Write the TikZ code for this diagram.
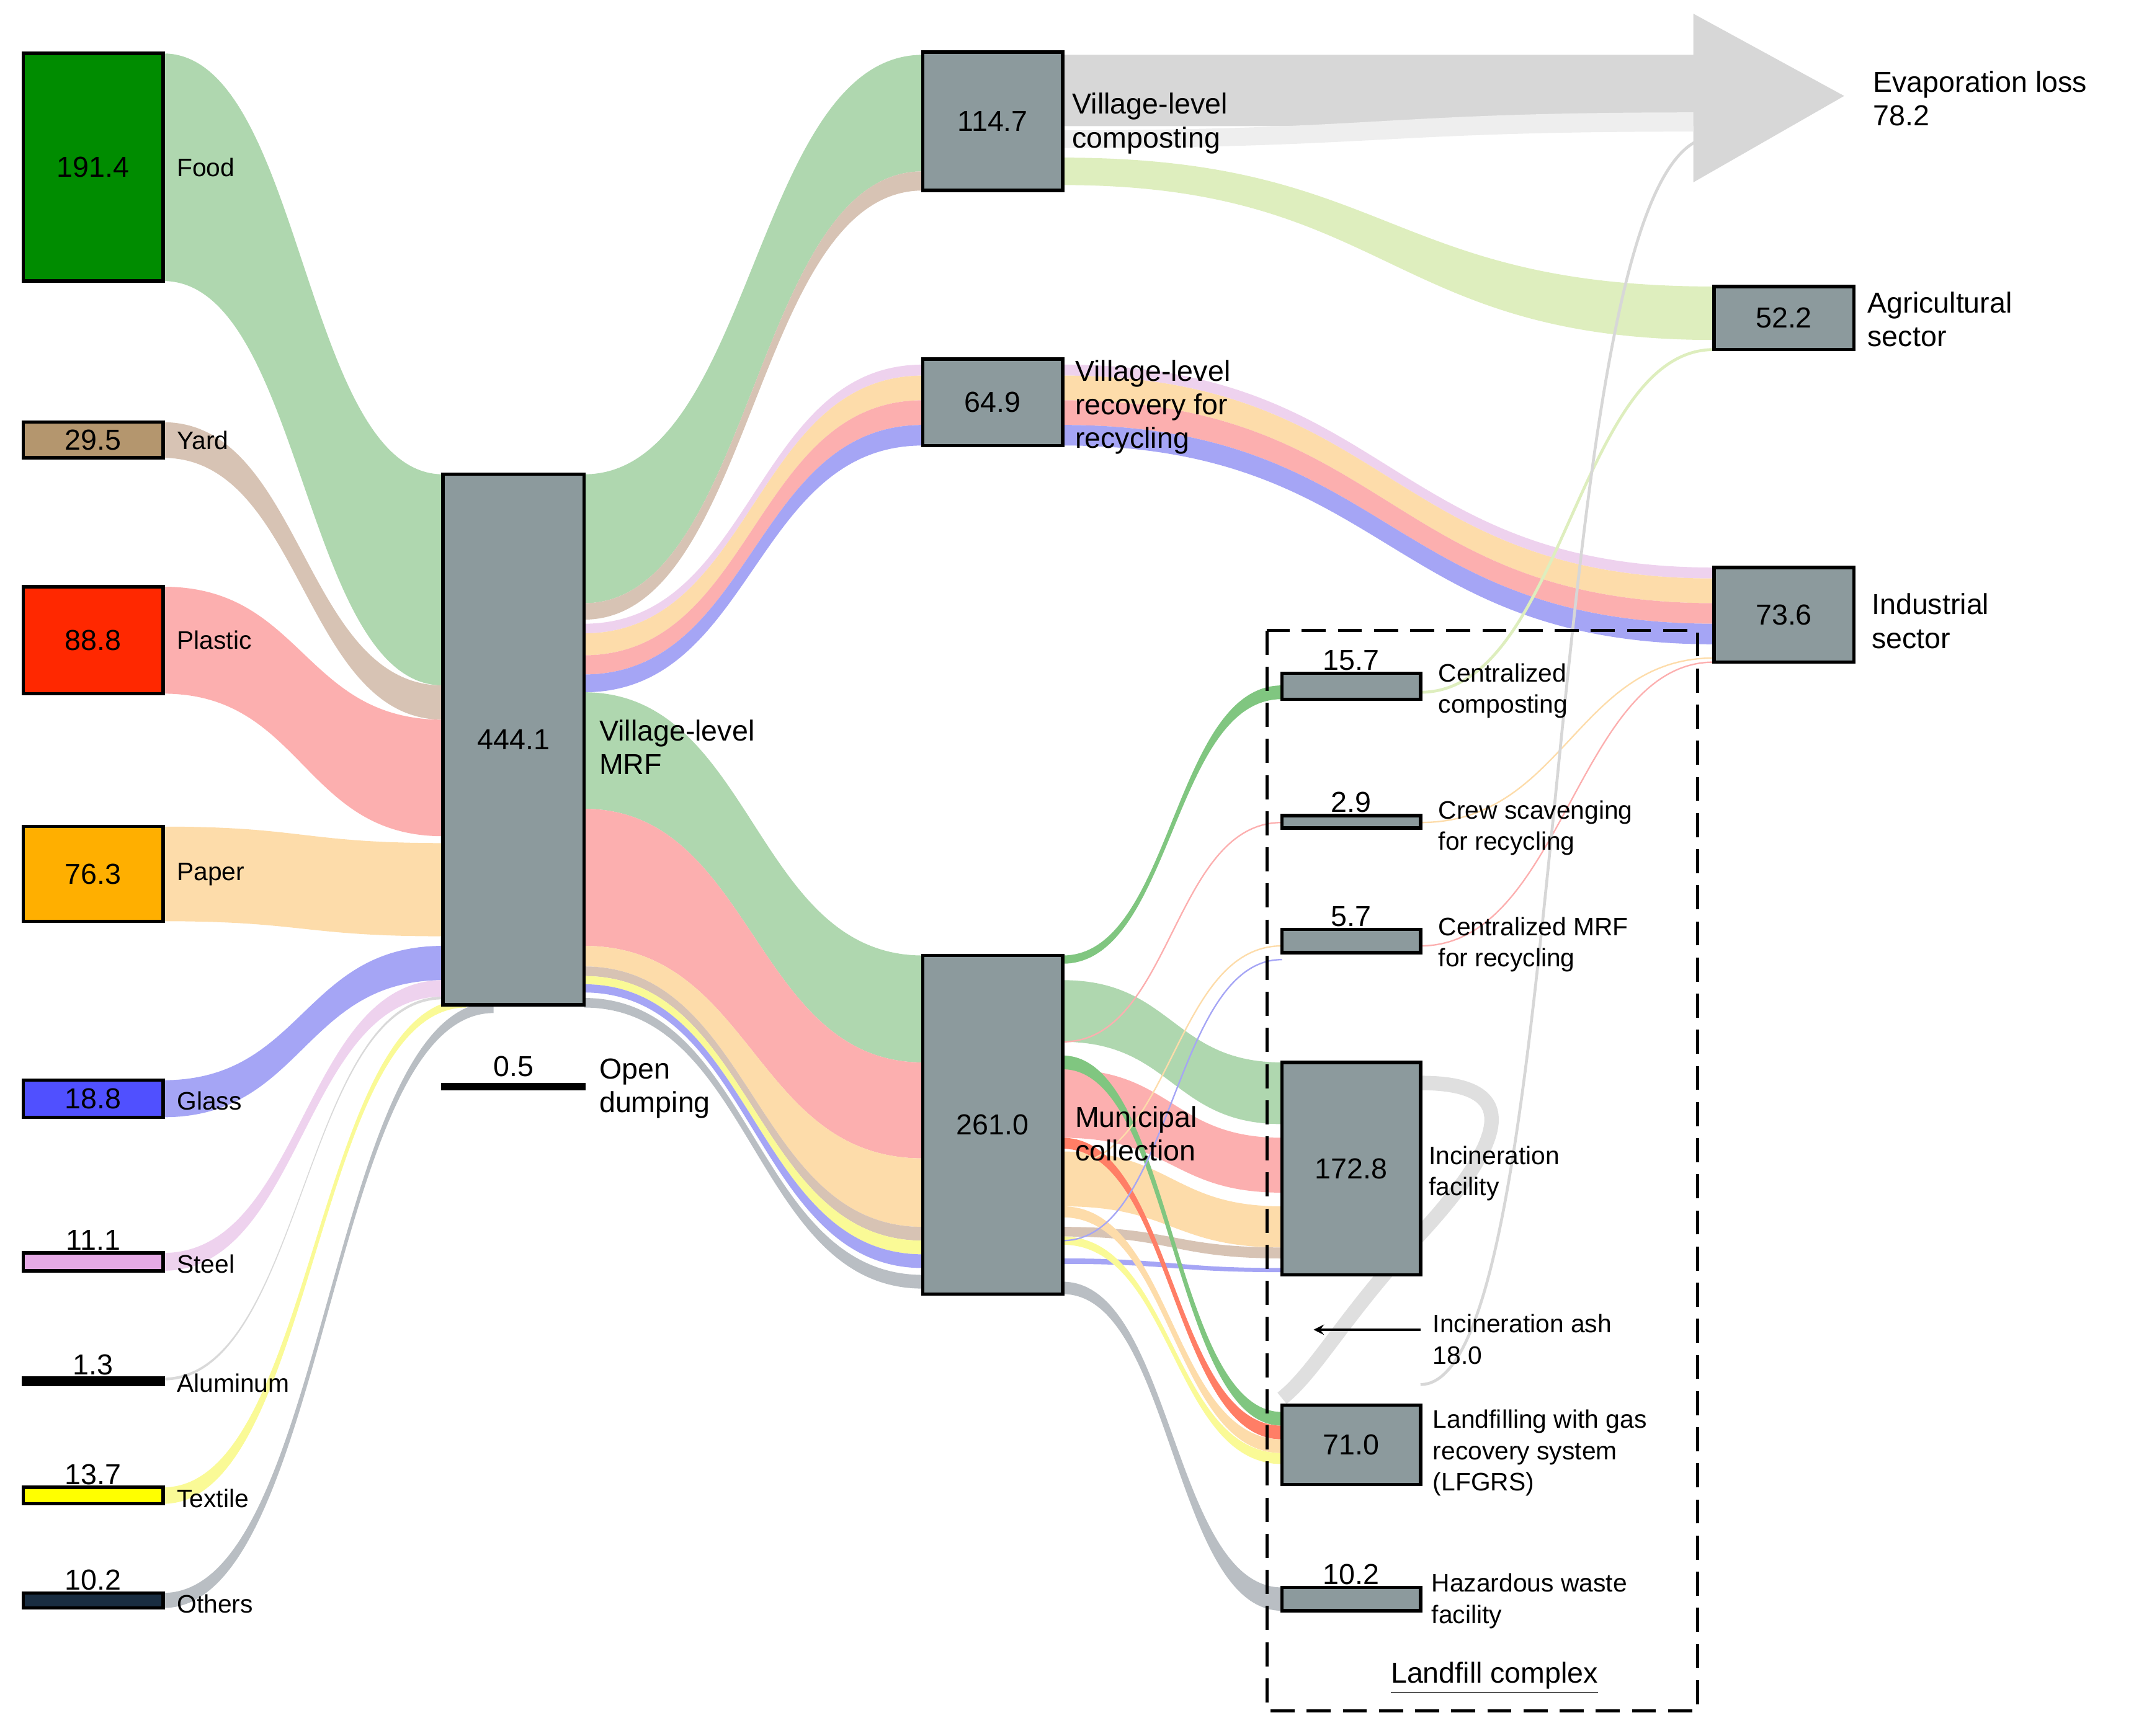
\documentclass[tikz,border=0pt]{standalone}
\usepackage{fontspec}
\setmainfont{Liberation Sans}
\begin{document}
\newcommand\sbband[7]{\fill[#7] (#1,#2) .. controls ({(#1+#4)/2},#2) and ({(#1+#4)/2},#5) .. (#4,#5) -- (#4,#6) .. controls ({(#1+#4)/2},#6) and ({(#1+#4)/2},#3) .. (#1,#3) -- cycle;}
\newcommand\bx[7]{\node[box,fill=#6,minimum width={(#3-#1)*0.02cm},minimum height={(#4-#2)*0.02cm}] (#5) at ({(#1+#3)/2},{(#2+#4)/2}) {#7};}
\definecolor{cfood}{RGB}{0,140,0}\definecolor{lfood}{RGB}{175,215,175}
\definecolor{cyard}{RGB}{180,150,110}\definecolor{lyard}{RGB}{215,195,180}
\definecolor{cplas}{RGB}{255,40,0}\definecolor{lplas}{RGB}{252,175,175}
\definecolor{cpap}{RGB}{255,175,0}\definecolor{lpap}{RGB}{253,220,170}
\definecolor{cgla}{RGB}{80,80,255}\definecolor{lgla}{RGB}{165,165,245}
\definecolor{cste}{RGB}{230,170,230}\definecolor{lste}{RGB}{238,210,238}
\definecolor{ctex}{RGB}{255,255,0}\definecolor{ltex}{RGB}{250,250,150}
\definecolor{coth}{RGB}{25,45,65}\definecolor{loth}{RGB}{185,190,195}
\definecolor{gnode}{RGB}{140,154,157}
\definecolor{lagr}{RGB}{222,238,190}
\definecolor{evap}{RGB}{215,215,215}
\begin{tikzpicture}[x=0.02cm,y=-0.02cm,
  box/.style={draw=black,line width=1.4pt,inner sep=0pt,outer sep=0pt,font=\fontsize{12}{14}\selectfont},
  lab/.style={anchor=west,font=\fontsize{12}{14}\selectfont,align=left,inner sep=1pt},
  slab/.style={anchor=west,font=\fontsize{10.5}{13}\selectfont,align=left,inner sep=1pt},
  num/.style={anchor=south,font=\fontsize{12}{14}\selectfont,inner sep=1pt}]
\useasboundingbox (0,0) rectangle (1560,1266);
% evaporation arrow
\fill[evap] (775,40) -- (1235,40) -- (1235,10) -- (1345,70) -- (1235,133) -- (1235,92) -- (775,92) -- cycle;
% sources -> MRF
\sbband{119}{39}{205}{323}{346}{500}{lfood}
\sbband{119}{308}{334}{323}{500}{525}{lyard}
\sbband{119}{428}{506}{323}{525}{610}{lplas}
\sbband{119}{603}{672}{323}{615}{683}{lpap}
\sbband{119}{788}{815}{323}{690}{715}{lgla}
\sbband{119}{914}{927}{323}{715}{727}{lste}
\sbband{119}{1005}{1007}{323}{727}{729}{black!15}
\sbband{119}{1085}{1097}{340}{729}{735}{ltex}
\sbband{119}{1162}{1173}{360}{731}{739}{loth}
% MRF -> composting / recovery
\sbband{426}{346}{440}{673}{40}{125}{lfood}
\sbband{426}{440}{452}{673}{125}{139}{lyard}
\sbband{426}{455}{462}{673}{266}{274}{lste}
\sbband{426}{462}{478}{673}{274}{292}{lpap}
\sbband{426}{478}{492}{673}{292}{310}{lplas}
\sbband{426}{492}{505}{673}{310}{325}{lgla}
% recovery -> industrial
\sbband{775}{266}{274}{1250}{414}{422}{lste}
\sbband{775}{274}{292}{1250}{422}{440}{lpap}
\sbband{775}{292}{310}{1250}{440}{455}{lplas}
\sbband{775}{310}{325}{1250}{455}{470}{lgla}
% MRF -> municipal
\sbband{426}{505}{590}{673}{697}{775}{lfood}
\sbband{426}{590}{690}{673}{775}{845}{lplas}
\sbband{426}{690}{705}{673}{845}{895}{lpap}
\sbband{426}{705}{712}{673}{895}{905}{lyard}
\sbband{426}{712}{718}{673}{905}{915}{ltex}
\sbband{426}{718}{724}{673}{915}{925}{lgla}
\sbband{426}{728}{735}{673}{930}{940}{loth}
% composting outputs
\sbband{775}{95}{108}{1235}{82}{96}{evap!80!black!20}
\sbband{775}{115}{135}{1250}{209}{248}{lagr}
% municipal -> incineration
\sbband{775}{715}{760}{935}{775}{820}{lfood}
\sbband{775}{780}{830}{935}{830}{870}{lplas}
\sbband{775}{840}{880}{935}{880}{910}{lpap}
\sbband{775}{895}{902}{935}{910}{918}{lyard}
\sbband{775}{918}{922}{935}{925}{928}{lgla}
% municipal -> landfilling
\sbband{775}{770}{780}{935}{1030}{1040}{cfood!50}
\sbband{775}{830}{838}{935}{1040}{1050}{cplas!60}
\sbband{775}{880}{888}{935}{1050}{1060}{lpap}
\sbband{775}{902}{908}{935}{1060}{1068}{ltex}
\sbband{775}{935}{944}{935}{1158}{1175}{loth}
\sbband{775}{697}{703}{935}{500}{510}{cfood!50}
% thin flows
\draw[lplas,line width=0.6pt] (775,760) .. controls (855,760) and (855,600) .. (935,600);
\draw[lpap,line width=0.6pt] (775,850) .. controls (855,850) and (855,690) .. (935,690);
\draw[lgla,line width=0.6pt] (775,905) .. controls (855,905) and (855,700) .. (935,700);
\draw[lplas,line width=0.6pt] (1036,690) .. controls (1140,690) and (1150,483) .. (1250,483);
\draw[lpap,line width=0.6pt] (1036,600) .. controls (1140,600) and (1150,480) .. (1250,480);
\draw[lagr,line width=1.2pt] (1036,505) .. controls (1140,505) and (1150,255) .. (1250,255);
\draw[evap,line width=1.2pt] (1036,1010) .. controls (1150,1010) and (1120,100) .. (1250,100);
\draw[evap!80,line width=6pt] (1036,790) .. controls (1110,790) and (1100,830) .. (1036,900) .. controls (980,960) and (960,1000) .. (935,1020);
% boxes
\bx{17}{39}{119}{205}{food}{cfood}{191.4}
\bx{17}{308}{119}{334}{yard}{cyard}{29.5}
\bx{17}{428}{119}{506}{plas}{cplas}{88.8}
\bx{17}{603}{119}{672}{pap}{cpap}{76.3}
\bx{17}{788}{119}{815}{gla}{cgla}{18.8}
\bx{17}{914}{119}{927}{ste}{cste}{}
\bx{17}{1005}{119}{1010}{alu}{black}{}
\bx{17}{1085}{119}{1097}{tex}{ctex}{}
\bx{17}{1162}{119}{1173}{oth}{coth}{}
\bx{323}{346}{426}{733}{mrf}{gnode}{444.1}
\bx{323}{791}{426}{794}{dump}{black}{}
\bx{673}{38}{775}{139}{comp}{gnode}{114.7}
\bx{673}{262}{775}{325}{rec}{gnode}{64.9}
\bx{673}{697}{775}{944}{mun}{gnode}{261.0}
\bx{1250}{209}{1352}{255}{agr}{gnode}{52.2}
\bx{1250}{414}{1352}{483}{ind}{gnode}{73.6}
\bx{935}{491}{1036}{510}{ccomp}{gnode}{}
\bx{935}{595}{1036}{604}{crew}{gnode}{}
\bx{935}{678}{1036}{695}{cmrf}{gnode}{}
\bx{935}{775}{1036}{930}{inc}{gnode}{172.8}
\bx{935}{1025}{1036}{1083}{lf}{gnode}{71.0}
\bx{935}{1158}{1036}{1175}{haz}{gnode}{}
\draw[dashed,line width=1.4pt,dash pattern=on 10pt off 5pt] (924,460) rectangle (1238,1248);
% numbers above thin boxes
\node[num] at (ste.north) {11.1};
\node[num] at (alu.north) {1.3};
\node[num] at (tex.north) {13.7};
\node[num] at (oth.north) {10.2};
\node[num] at ([yshift=2pt]dump.north) {0.5};
\node[num] at (ccomp.north) {15.7};
\node[num] at (crew.north) {2.9};
\node[num] at (cmrf.north) {5.7};
\node[num] at (haz.north) {10.2};
% labels
\node[slab] at (127,122) {Food};
\node[slab] at (127,321) {Yard};
\node[slab] at (127,467) {Plastic};
\node[slab] at (127,638) {Paper};
\node[slab] at (127,803) {Glass};
\node[slab] at (127,922) {Steel};
\node[slab] at (127,1009) {Aluminum};
\node[slab] at (127,1093) {Textile};
\node[slab] at (127,1170) {Others};
\node[lab] at (435,545) {Village-level\\MRF};
\node[lab] at (435,794) {Open\\dumping};
\node[lab] at (780,90) {Village-level\\composting};
\node[lab] at (782,297) {Village-level\\recovery for\\recycling};
\node[lab] at (782,827) {Municipal\\collection};
\node[lab] at (1360,233) {Agricultural\\sector};
\node[lab] at (1363,453) {Industrial\\sector};
\node[lab] at (1364,72) {Evaporation loss\\78.2};
\node[slab] at (1047,504) {Centralized\\composting};
\node[slab] at (1047,604) {Crew scavenging\\for recycling};
\node[slab] at (1047,689) {Centralized MRF\\for recycling};
\node[slab] at (1040,856) {Incineration\\facility};
\node[slab] at (1043,977) {Incineration ash\\18.0};
\node[slab] at (1043,1060) {Landfilling with gas\\recovery system\\(LFGRS)};
\node[slab] at (1042,1168) {Hazardous waste\\facility};
\node[font=\fontsize{12}{14}\selectfont] (lc) at (1090,1224) {\underline{Landfill complex}};
\coordinate (ash) at (958,970);
\draw[-stealth,line width=0.9pt] (1036,970) -- (ash);
\end{tikzpicture}
\end{document}
